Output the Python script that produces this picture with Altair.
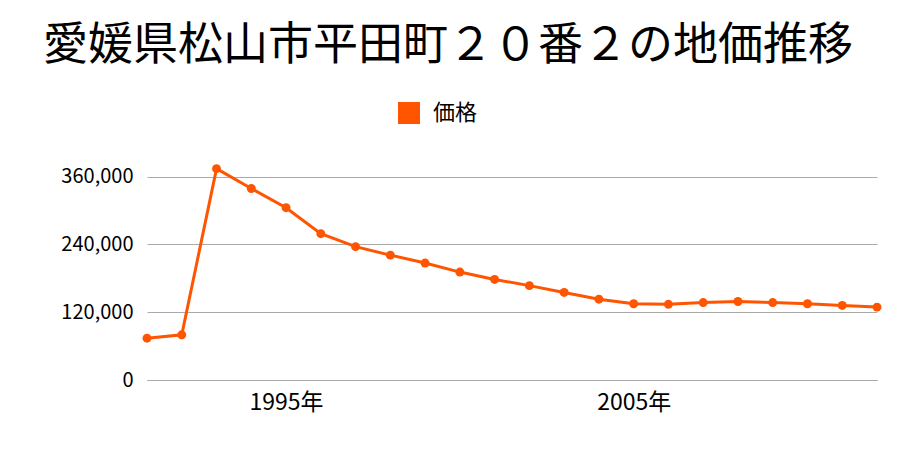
import altair as alt
import pandas as pd

years = list(range(1991, 2013))
prices = [74000, 80000, 374000, 339000, 305000, 259000, 236000, 221000, 207000,
          191000, 178000, 167000, 155000, 143000, 135000, 134000, 137000, 139000,
          137000, 135000, 132000, 129000]
series = ["価格"] * len(years)
y_ticks = [0, 120000, 240000, 360000]
x_ticks = [1995, 2005]

df = pd.DataFrame({"year": years, "price": prices, "series": series})

FONT = "Noto Sans CJK JP"
ORANGE = "#ff5500"

x = alt.X("year:Q", scale=alt.Scale(domain=[1991, 2012], nice=False, zero=False),
          axis=alt.Axis(values=x_ticks, labelExpr="datum.value + '年'", title=None,
                        grid=False, ticks=False, domain=True, domainColor="#aaaaaa",
                        labelFont=FONT, labelFontSize=23, labelColor="#000000",
                        labelPadding=11))
y = alt.Y("price:Q", scale=alt.Scale(domain=[0, 400000], nice=False),
          axis=alt.Axis(values=y_ticks, format=",d", title=None, ticks=False,
                        domain=False, gridColor="#aaaaaa", gridWidth=1,
                        labelFont=FONT, labelFontSize=20, labelColor="#000000",
                        labelPadding=14))

line = alt.Chart(df).mark_line(strokeWidth=3, color=ORANGE).encode(x=x, y=y)
pts = alt.Chart(df).mark_circle(size=80, opacity=1).encode(
    x=x, y=y,
    color=alt.Color("series:N", scale=alt.Scale(domain=["価格"], range=[ORANGE]),
                    legend=alt.Legend(title=None, orient="none", legendX=250, legendY=-53,
                                      symbolType="square", symbolSize=484,
                                      labelOffset=12,
                                      labelFont=FONT, labelFontSize=22,
                                      labelColor="#000000", symbolOpacity=1)))

chart = (line + pts).properties(
    width=730, height=226,
    autosize=alt.AutoSizeParams(type="none"),
    padding={"left": 147, "right": 23, "top": 154, "bottom": 70},
    title=alt.TitleParams("愛媛県松山市平田町２０番２の地価推移", font=FONT, fontSize=45,
                          fontWeight="normal", color="#000000", anchor="middle",
                          frame="group", dx=-64, dy=-28),
).configure_view(stroke=None)

chart.save("out.html", embed_options={"renderer": "svg", "actions": False})
